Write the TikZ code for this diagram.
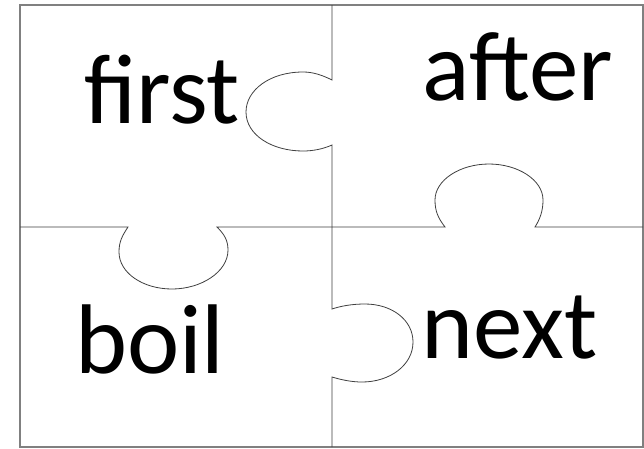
\documentclass[tikz,border=0pt]{standalone}
\usepackage{fontspec}
\setmainfont{Carlito}
\begin{document}
\begin{tikzpicture}[x=1pt,y=-1pt,
  cut/.style={draw=black!75,line width=0.8pt},
  frame/.style={draw=black!50,line width=1.4pt},
  word/.style={inner sep=0pt,anchor=base,font=\fontsize{99}{110}\selectfont}]
\useasboundingbox (0,0) rectangle (644,448);
\fill[white] (0,0) rectangle (644,448);
% outer frame
\draw[frame] (20,5) rectangle (643,447);
% vertical cut with two knobs
\draw[cut] (332,5) -- (332,80)
  .. controls (322,75) and (313,72) .. (303,72)
  .. controls (270,72) and (246,90) .. (246,112)
  .. controls (246,135) and (272,151) .. (303,151)
  .. controls (313,151) and (323,149) .. (332,145)
  -- (332,309)
  .. controls (341,306) and (352,304) .. (365,304)
  .. controls (392,304) and (413,320) .. (413,342)
  .. controls (413,365) and (390,382) .. (362,382)
  .. controls (352,382) and (342,380) .. (332,377)
  -- (332,447);
% horizontal cut, left part
\draw[cut] (20,227) -- (128,227)
  .. controls (122,236) and (119,242) .. (119,252)
  .. controls (119,273) and (143,289) .. (172,289)
  .. controls (201,289) and (228,272) .. (228,250)
  .. controls (228,240) and (224,234) .. (217,227)
  -- (332,227);
% horizontal cut, right part
\draw[cut] (332,227) -- (445,227)
  .. controls (438,218) and (435,211) .. (435,200)
  .. controls (435,180) and (460,164) .. (489,164)
  .. controls (518,164) and (543,180) .. (543,200)
  .. controls (543,211) and (540,219) .. (535,227)
  -- (643,227);
% words
\node[word] (first) at (162,123) {first};
\node[word] (after) at (518,100) {after};
\node[word] (boil) at (150,373) {boil};
\node[word] (next) at (510,358) {next};
\end{tikzpicture}
\end{document}
